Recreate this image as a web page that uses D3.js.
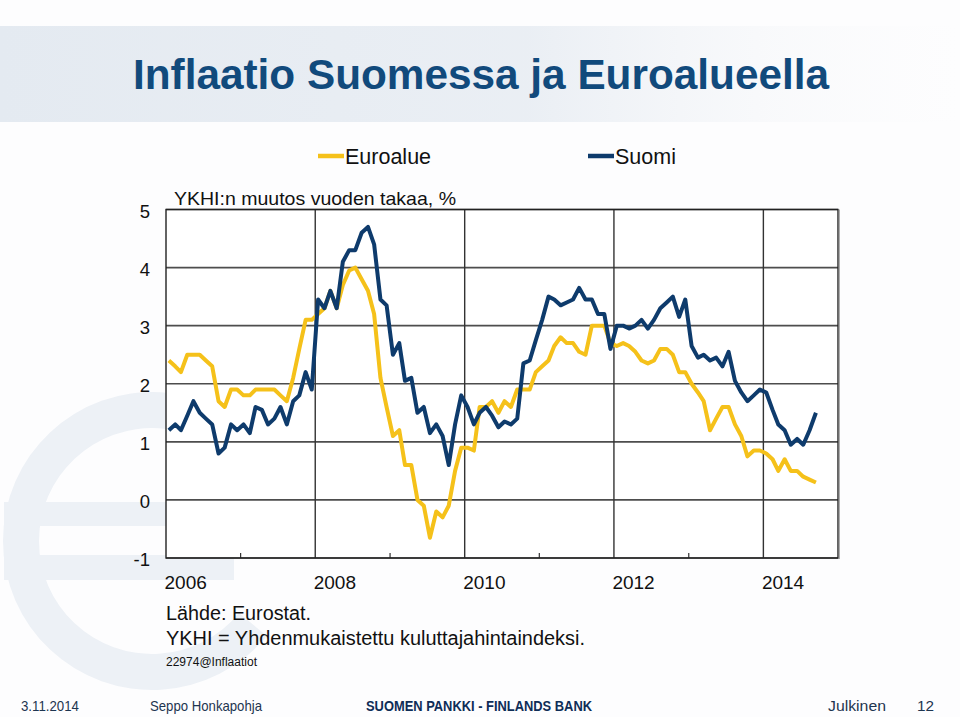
<!DOCTYPE html>
<html>
<head>
<meta charset="utf-8">
<script src="https://cdn.jsdelivr.net/npm/d3@7"></script>
<style>
  html, body { margin: 0; padding: 0; background: #ffffff; }
  svg { display: block; font-family: "Liberation Sans", Arial, Helvetica, sans-serif; }
</style>
</head>
<body>
<svg id="chart" width="960" height="717"></svg>
<script>
// ---- Data (monthly, Jan 2006 – Sep 2014), YKHI annual change, % ----
const startYear = 2006;
const startMonth = 0;
const euroalue = [
  2.4, 2.3, 2.2, 2.5, 2.5, 2.5, 2.4, 2.3, 1.7, 1.6, 1.9, 1.9,
  1.8, 1.8, 1.9, 1.9, 1.9, 1.9, 1.8, 1.7, 2.1, 2.6, 3.1, 3.1,
  3.2, 3.3, 3.6, 3.3, 3.7, 3.95, 4.0, 3.8, 3.6, 3.2, 2.1, 1.6,
  1.1, 1.2, 0.6, 0.6, 0.0, -0.1, -0.65, -0.2, -0.3, -0.1, 0.5, 0.9,
  0.9, 0.85, 1.6, 1.6, 1.7, 1.5, 1.7, 1.6, 1.9, 1.9, 1.9, 2.2,
  2.3, 2.4, 2.65, 2.8, 2.7, 2.7, 2.55, 2.5, 3.0, 3.0, 3.0, 2.7,
  2.65, 2.7, 2.65, 2.55, 2.4, 2.35, 2.4, 2.6, 2.6, 2.5, 2.2, 2.2,
  2.0, 1.85, 1.7, 1.2, 1.4, 1.6, 1.6, 1.3, 1.1, 0.75, 0.85, 0.85,
  0.8, 0.7, 0.5, 0.7, 0.5, 0.5, 0.4, 0.35, 0.3
];
const suomi = [
  1.2, 1.3, 1.2, 1.45, 1.7, 1.5, 1.4, 1.3, 0.8, 0.9, 1.3, 1.2,
  1.3, 1.15, 1.6, 1.55, 1.3, 1.4, 1.6, 1.3, 1.7, 1.8, 2.2, 1.9,
  3.45, 3.3, 3.6, 3.3, 4.1, 4.3, 4.3, 4.6, 4.7, 4.4, 3.45, 3.35,
  2.5, 2.7, 2.05, 2.1, 1.5, 1.6, 1.15, 1.3, 1.1, 0.6, 1.3, 1.8,
  1.6, 1.3, 1.5, 1.6, 1.45, 1.25, 1.35, 1.3, 1.4, 2.35, 2.4, 2.75,
  3.1, 3.5, 3.45, 3.35, 3.4, 3.45, 3.65, 3.45, 3.45, 3.2, 3.2, 2.6,
  3.0, 3.0, 2.95, 3.0, 3.1, 2.95, 3.1, 3.3, 3.4, 3.5, 3.15, 3.45,
  2.65, 2.45, 2.5, 2.4, 2.45, 2.3, 2.55, 2.05, 1.85, 1.7, 1.8, 1.9,
  1.85, 1.55, 1.3, 1.2, 0.95, 1.05, 0.95, 1.2, 1.5
];
const seriesNames = ["Euroalue", "Suomi"];
const yTicks = [-1, 0, 1, 2, 3, 4, 5];
const xLabelYears = [2006, 2008, 2010, 2012, 2014];
const xMinorYears = [2007, 2009, 2011, 2013];
const titleText = "Inflaatio Suomessa ja Euroalueella";
const unitText = "YKHI:n muutos vuoden takaa, %";
const noteLines = ["Lähde: Eurostat.", "YKHI = Yhdenmukaistettu kuluttajahintaindeksi."];
const codeText = "22974@Inflaatiot";
const footer = ["3.11.2014", "Seppo Honkapohja", "SUOMEN PANKKI - FINLANDS BANK", "Julkinen", "12"];

// ---- Drawing ----
const svg = d3.select("#chart");
const colors = { euro: "#f5c11a", suomi: "#0e3b6c", title: "#114a7c", footer: "#1e3550" };

const plot = { left: 166, right: 838, top: 209.5, bottom: 558 };

const x = d3.scaleTime()
  .domain([new Date(2006, 0, 1), new Date(2015, 0, 1)])
  .range([plot.left, plot.right]);
const y = d3.scaleLinear().domain([-1, 5]).range([plot.bottom, plot.top]);

const toPoints = arr => arr.map((v, i) => ({ date: new Date(startYear, startMonth + i, 15), v }));

// Background: header band
const defs = svg.append("defs");
const grad = defs.append("linearGradient").attr("id", "band").attr("x1", "0").attr("x2", "1");
grad.append("stop").attr("offset", "0%").attr("stop-color", "#e4eaf1").attr("stop-opacity", 1);
grad.append("stop").attr("offset", "55%").attr("stop-color", "#e8edf3").attr("stop-opacity", 0.9);
grad.append("stop").attr("offset", "80%").attr("stop-color", "#eef1f5").attr("stop-opacity", 0.3);
grad.append("stop").attr("offset", "100%").attr("stop-color", "#f4f6f8").attr("stop-opacity", 0);
svg.append("rect").attr("x", 0).attr("y", 0).attr("width", 960).attr("height", 717).attr("fill", "#fdfdfe");
svg.append("rect").attr("x", 0).attr("y", 26).attr("width", 960).attr("height", 96).attr("fill", "url(#band)");

// Euro watermark (ring opening to the right, two bars)
const wmColor = "#edf1f6";
const cx = 152, cy = 541, rMid = 131;
const arc = d3.arc().innerRadius(rMid - 18).outerRadius(rMid + 18)
  .startAngle(Math.PI * 0.72).endAngle(Math.PI * 2.28);
svg.append("path").attr("d", arc()).attr("transform", `translate(${cx},${cy})`).attr("fill", wmColor);
svg.append("rect").attr("x", 4).attr("y", 502).attr("width", 230).attr("height", 24).attr("fill", wmColor);
svg.append("rect").attr("x", 4).attr("y", 555).attr("width", 230).attr("height", 25).attr("fill", wmColor);

// Title
svg.append("text").attr("x", 133).attr("y", 89).attr("fill", colors.title)
  .attr("font-size", 42).attr("font-weight", "bold")
  .attr("textLength", 696).attr("lengthAdjust", "spacingAndGlyphs")
  .text(titleText);

// Legend
const legend = [
  { name: seriesNames[0], color: colors.euro, x: 318 },
  { name: seriesNames[1], color: colors.suomi, x: 588 }
];
legend.forEach(l => {
  svg.append("line").attr("x1", l.x).attr("x2", l.x + 26).attr("y1", 156).attr("y2", 156)
    .attr("stroke", l.color).attr("stroke-width", 4.5);
  svg.append("text").attr("x", l.x + 27).attr("y", 164).attr("font-size", 21.5).attr("fill", "#111")
    .text(l.name);
});

// Plot background
svg.append("rect").attr("x", plot.left).attr("y", plot.top)
  .attr("width", plot.right - plot.left).attr("height", plot.bottom - plot.top).attr("fill", "#ffffff");

// Unit label
svg.append("text").attr("x", 174).attr("y", 205).attr("font-size", 19).attr("fill", "#111")
  .attr("textLength", 282).attr("lengthAdjust", "spacingAndGlyphs").text(unitText);

// Horizontal gridlines
svg.append("g").selectAll("line").data(yTicks).join("line")
  .attr("x1", plot.left).attr("x2", plot.right)
  .attr("y1", d => y(d)).attr("y2", d => y(d))
  .attr("stroke", "#4d4d4d").attr("stroke-width", 1.6);

// Vertical gridlines (every 2 years)
svg.append("g").selectAll("line").data(xLabelYears.slice(1)).join("line")
  .attr("x1", d => x(new Date(d, 0, 1))).attr("x2", d => x(new Date(d, 0, 1)))
  .attr("y1", plot.top).attr("y2", plot.bottom)
  .attr("stroke", "#333").attr("stroke-width", 1.4);

// Minor ticks
svg.append("g").selectAll("line").data(xMinorYears).join("line")
  .attr("x1", d => x(new Date(d, 0, 1))).attr("x2", d => x(new Date(d, 0, 1)))
  .attr("y1", plot.bottom - 5).attr("y2", plot.bottom)
  .attr("stroke", "#333").attr("stroke-width", 1.2);

// Frame
svg.append("rect").attr("x", plot.left).attr("y", plot.top)
  .attr("width", plot.right - plot.left).attr("height", plot.bottom - plot.top)
  .attr("fill", "none").attr("stroke", "#222").attr("stroke-width", 1.4);
svg.append("line").attr("x1", plot.right + 1.2).attr("x2", plot.right + 1.2)
  .attr("y1", plot.top).attr("y2", plot.bottom + 1).attr("stroke", "#888").attr("stroke-width", 1);

// Y tick labels
svg.append("g").selectAll("text").data(yTicks).join("text")
  .attr("x", 150).attr("y", d => y(d) + 8).attr("text-anchor", "end")
  .attr("font-size", 18.5).attr("fill", "#111").text(d => d);

// X labels
svg.append("g").selectAll("text").data(xLabelYears).join("text")
  .attr("x", d => x(new Date(d, 0, 1)) - 1.5).attr("y", 589)
  .attr("font-size", 19).attr("fill", "#111").text(d => d);

// Lines
const line = d3.line().x(d => x(d.date)).y(d => y(d.v)).curve(d3.curveLinear);
svg.append("path").datum(toPoints(euroalue)).attr("d", line)
  .attr("fill", "none").attr("stroke", colors.euro).attr("stroke-width", 4)
  .attr("stroke-linejoin", "round");
svg.append("path").datum(toPoints(suomi)).attr("d", line)
  .attr("fill", "none").attr("stroke", colors.suomi).attr("stroke-width", 4)
  .attr("stroke-linejoin", "round");

// Notes
svg.append("text").attr("x", 166).attr("y", 620).attr("font-size", 19.5).attr("fill", "#111")
  .attr("textLength", 145).attr("lengthAdjust", "spacingAndGlyphs").text(noteLines[0]);
svg.append("text").attr("x", 166).attr("y", 645).attr("font-size", 19.5).attr("fill", "#111")
  .attr("textLength", 419).attr("lengthAdjust", "spacingAndGlyphs").text(noteLines[1]);
svg.append("text").attr("x", 166).attr("y", 666).attr("font-size", 12).attr("fill", "#111")
  .attr("textLength", 91).attr("lengthAdjust", "spacingAndGlyphs").text(codeText);

// Footer
const fpos = [
  { x: 21, w: 58, bold: false },
  { x: 150, w: 112, bold: false },
  { x: 366, w: 226, bold: true },
  { x: 828, w: 58, bold: false },
  { x: 917, w: 17, bold: false }
];
footer.forEach((t, i) => {
  svg.append("text").attr("x", fpos[i].x).attr("y", 711)
    .attr("font-size", 14.5).attr("font-weight", fpos[i].bold ? "bold" : "normal")
    .attr("fill", fpos[i].bold ? "#0f2d57" : colors.footer)
    .attr("textLength", fpos[i].w).attr("lengthAdjust", "spacingAndGlyphs")
    .text(t);
});
</script>
</body>
</html>
